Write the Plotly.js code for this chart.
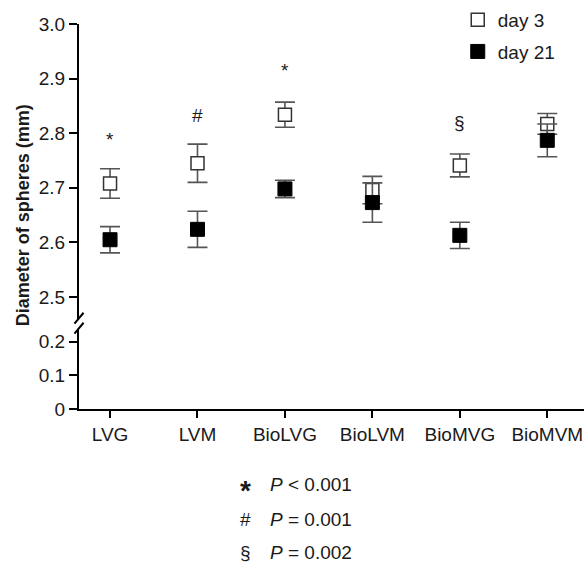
<!DOCTYPE html>
<html>
<head>
<meta charset="utf-8">
<script src="https://cdn.plot.ly/plotly-3.0.1.min.js"></script>
<style>html,body{margin:0;padding:0;background:#fff;}#chart{width:584px;height:568px;}</style>
</head>
<body>
<div id="chart"></div>
<script>
const categories = ["LVG", "LVM", "BioLVG", "BioLVM", "BioMVG", "BioMVM"];
const day3 = [2.708, 2.745, 2.834, 2.696, 2.741, 2.817];
const day3Err = [0.027, 0.035, 0.023, 0.025, 0.021, 0.019];
const day21 = [2.605, 2.624, 2.698, 2.673, 2.613, 2.787];
const day21Err = [0.024, 0.033, 0.016, 0.036, 0.024, 0.030];
const sigMarks = ["*", "#", "*", "", "§", ""];
const sigY = [2.789, 2.833, 2.914, null, 2.819, null];
const footSymbols = ["*", "#", "§"];
const footTexts = ["<i>P</i> &lt; 0.001", "<i>P</i> = 0.001", "<i>P</i> = 0.002"];
const topTicks = [2.5, 2.6, 2.7, 2.8, 2.9, 3.0];
const bottomTicks = [0, 0.1, 0.2];

const FONT = "Liberation Sans, Arial, sans-serif";
const TXT = "#1a1a1a";

const traces = [
  {
    type: "scatter", mode: "markers", name: "lower",
    x: categories, y: categories.map(() => null), xaxis: "x", yaxis: "y",
    showlegend: false, hoverinfo: "skip"
  },
  {
    type: "scatter", mode: "markers", name: "day 3",
    x: categories, y: day3, xaxis: "x", yaxis: "y2",
    legendgroup: "a",
    marker: {symbol: "square", size: 13, color: "#ffffff", line: {color: "#333333", width: 1.5}},
    error_y: {type: "data", array: day3Err, visible: true, color: "#555555", thickness: 1.6, width: 10}
  },
  {
    type: "scatter", mode: "markers", name: "day 21",
    x: categories, y: day21, xaxis: "x", yaxis: "y2",
    legendgroup: "b",
    marker: {symbol: "square", size: 14, color: "#000000", line: {color: "#000000", width: 1}},
    error_y: {type: "data", array: day21Err, visible: true, color: "#555555", thickness: 1.6, width: 10}
  }
];

const annotations = [];
categories.forEach((c, i) => {
  if (sigMarks[i]) {
    annotations.push({
      x: c, y: sigY[i], xref: "x", yref: "y2", text: sigMarks[i], showarrow: false,
      font: {family: FONT, size: 19, color: TXT}
    });
  }
});
const footY = [-0.195, -0.286, -0.374];
footSymbols.forEach((s, i) => {
  const isStar = s === "*";
  annotations.push({
    x: 0.329, y: footY[i], xref: "paper", yref: "paper", text: isStar ? "<b>*</b>" : s,
    showarrow: false, xanchor: "center", yanchor: "middle",
    yshift: isStar ? -6 : 0,
    font: {family: FONT, size: isStar ? 28 : 19, color: TXT}
  });
  annotations.push({
    x: 0.374, y: footY[i], xref: "paper", yref: "paper", text: footTexts[i],
    showarrow: false, xanchor: "left", yanchor: "middle",
    font: {family: FONT, size: 19, color: TXT}
  });
});
annotations.push({
  x: -0.111, y: 0.503, xref: "paper", yref: "paper", text: "<b>Diameter of spheres (mm)</b>",
  textangle: -90, showarrow: false, xanchor: "center", yanchor: "middle",
  font: {family: FONT, size: 18, color: TXT}
});

const shapes = [
  {type: "line", xref: "paper", yref: "paper", x0: -0.009, x1: 0.009, y0: 0.222, y1: 0.250, line: {color: "#000", width: 2}},
  {type: "line", xref: "paper", yref: "paper", x0: -0.009, x1: 0.009, y0: 0.196, y1: 0.224, line: {color: "#000", width: 2}}
];

const axisCommon = {
  showgrid: false, zeroline: false, showline: true, linecolor: "#000", linewidth: 2,
  ticks: "outside", ticklen: 8, tickwidth: 2, tickcolor: "#000",
  tickfont: {family: FONT, size: 19, color: TXT}
};

const layout = {
  width: 584, height: 568,
  margin: {l: 79, r: 0, t: 24, b: 159},
  paper_bgcolor: "#fff", plot_bgcolor: "#fff",
  font: {family: FONT, color: TXT},
  showlegend: true,
  legend: {
    x: 0.75, y: 1.06, xanchor: "left", yanchor: "top",
    traceorder: "grouped", tracegroupgap: 4,
    font: {family: FONT, size: 19, color: TXT},
    bgcolor: "rgba(0,0,0,0)"
  },
  xaxis: Object.assign({}, axisCommon, {
    type: "category", range: [-0.355, 5.42], anchor: "y", ticklen: 7
  }),
  yaxis: Object.assign({}, axisCommon, {
    domain: [0, 0.205], range: [0, 0.235], anchor: "x",
    tickvals: bottomTicks, ticktext: ["0", "0.1", "0.2"]
  }),
  yaxis2: Object.assign({}, axisCommon, {
    domain: [0.234, 1], range: [2.46, 3.0], anchor: "x",
    tickvals: topTicks, tickformat: ".1f"
  }),
  annotations: annotations,
  shapes: shapes
};

Plotly.newPlot("chart", traces, layout, {displayModeBar: false, staticPlot: true});
</script>
</body>
</html>
